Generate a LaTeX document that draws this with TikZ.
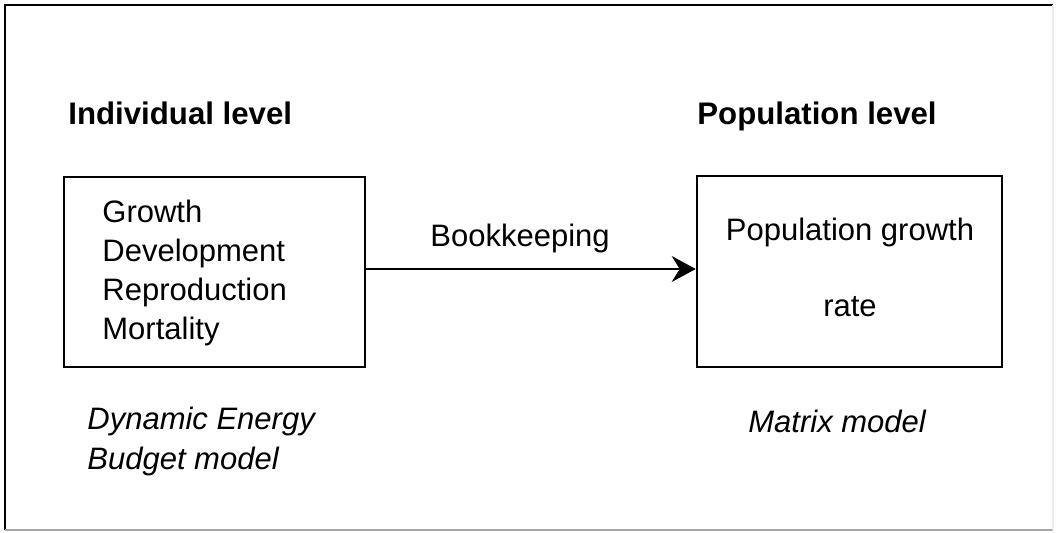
\documentclass[tikz,border=0pt]{standalone}
\usepackage{fontspec}
\setmainfont{Liberation Sans}
\usetikzlibrary{arrows.meta}
\begin{document}
\begin{tikzpicture}[x=0.5pt,y=-0.5pt,
  txt/.style={anchor=base west,inner sep=0pt,font=\fontsize{15.5}{19.5}\selectfont},
  head/.style={txt,font=\fontsize{15.6}{19.5}\selectfont\bfseries},
  note/.style={txt,font=\fontsize{15.5}{19.5}\selectfont\itshape},
  boxnode/.style={draw,line width=1.3pt,inner sep=0pt},
  conn/.style={line width=0.8pt,-{Stealth[length=12pt,width=13pt,inset=4pt]}}]
\useasboundingbox (0,0) rectangle (1056,533);
% outer frame
\draw[line width=1.4pt] (5,530) -- (5,5) -- (1053,5);
\draw[line width=1pt,gray!70] (5,530) -- (1053,530);
\draw[line width=0.6pt,gray!15] (1053,5) -- (1053,530);
% headings
\node[head] (hind) at (68,125) {Individual level};
\node[head] (hpop) at (697,125) {Population level};
% boxes
\node[boxnode,minimum width=150.5pt,minimum height=95pt] (lbox) at (214.5,272) {};
\node[boxnode,minimum width=152.5pt,minimum height=95.5pt] (rbox) at (849.5,271.5) {};
% left box text
\node[txt] (t1) at (102,223) {Growth};
\node[txt] (t2) at (102,262) {Development};
\node[txt] (t3) at (102,301) {Reproduction};
\node[txt] (t4) at (102,340) {Mortality};
% right box text
\node[txt,anchor=base] (r1) at (850,241) {Population growth};
\node[txt,anchor=base] (r2) at (850,317) {rate};
% connector
\draw[conn] (lbox.east |- 0,269) -- (rbox.west |- 0,269);
\node[txt] (bk) at (430,247) {Bookkeeping};
% notes
\node[note] (n1) at (87,430) {Dynamic Energy};
\node[note] (n2) at (87,470) {Budget model};
\node[note] (n3) at (748,433) {Matrix model};
\end{tikzpicture}
\end{document}
